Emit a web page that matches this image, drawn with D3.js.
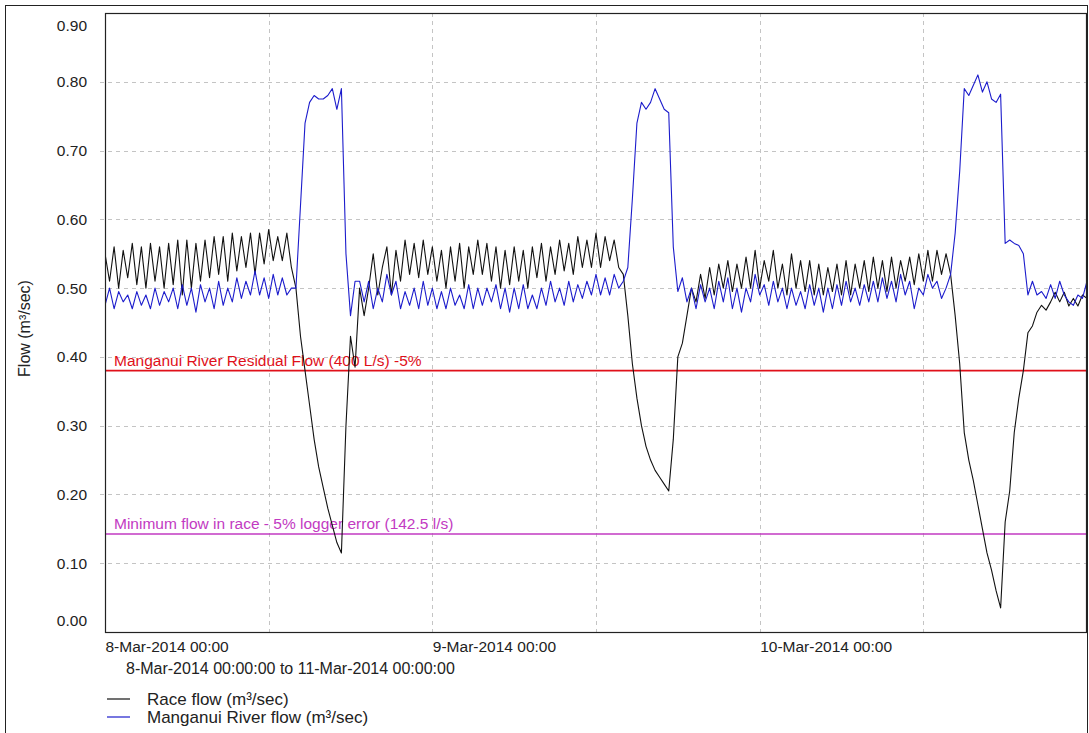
<!DOCTYPE html>
<html>
<head>
<meta charset="utf-8">
<script src="https://cdn.jsdelivr.net/npm/d3@7"></script>
<style>
  body { margin: 0; background: #fff; }
  svg text { font-family: "Liberation Sans", Arial, Helvetica, sans-serif; fill: #222; }
</style>
</head>
<body>
<svg id="chart" width="1089" height="733"></svg>
<script>
// Logger readings, one every 20 minutes from 8-Mar-2014 00:00 to 11-Mar-2014 00:00
const seriesStart = new Date(2014, 2, 8, 0, 0);
const seriesEnd = new Date(2014, 2, 11, 0, 0);
const stepMinutes = 20;

// Race flow (m³/sec)
const raceFlow = [
  0.55, 0.51, 0.56, 0.50, 0.555, 0.515, 0.565, 0.505, 0.56, 0.50,
  0.565, 0.51, 0.56, 0.50, 0.565, 0.505, 0.57, 0.49, 0.57, 0.50,
  0.565, 0.51, 0.57, 0.515, 0.575, 0.52, 0.575, 0.51, 0.58, 0.525,
  0.575, 0.53, 0.58, 0.52, 0.58, 0.535, 0.585, 0.54, 0.575, 0.54,
  0.58, 0.53, 0.50, 0.43, 0.38, 0.33, 0.28, 0.24, 0.21, 0.18,
  0.155, 0.13, 0.115, 0.30, 0.43, 0.385, 0.50, 0.46, 0.50, 0.55,
  0.49, 0.53, 0.56, 0.49, 0.555, 0.51, 0.57, 0.52, 0.565, 0.515,
  0.57, 0.52, 0.56, 0.51, 0.555, 0.50, 0.56, 0.51, 0.565, 0.50,
  0.56, 0.52, 0.57, 0.52, 0.565, 0.51, 0.56, 0.50, 0.555, 0.505,
  0.56, 0.51, 0.555, 0.50, 0.56, 0.515, 0.565, 0.51, 0.56, 0.52,
  0.57, 0.525, 0.565, 0.52, 0.575, 0.53, 0.57, 0.53, 0.58, 0.53,
  0.575, 0.54, 0.57, 0.53, 0.52, 0.46, 0.39, 0.34, 0.30, 0.27,
  0.25, 0.235, 0.225, 0.215, 0.205, 0.28, 0.40, 0.42, 0.46, 0.50,
  0.48, 0.52, 0.485, 0.53, 0.49, 0.535, 0.50, 0.54, 0.495, 0.535,
  0.50, 0.545, 0.50, 0.555, 0.50, 0.54, 0.51, 0.555, 0.50, 0.535,
  0.49, 0.55, 0.50, 0.54, 0.495, 0.54, 0.49, 0.535, 0.49, 0.53,
  0.495, 0.535, 0.49, 0.54, 0.49, 0.535, 0.50, 0.54, 0.495, 0.545,
  0.50, 0.54, 0.495, 0.545, 0.50, 0.54, 0.51, 0.545, 0.505, 0.55,
  0.51, 0.555, 0.51, 0.555, 0.52, 0.55, 0.52, 0.46, 0.39, 0.29,
  0.25, 0.22, 0.185, 0.15, 0.115, 0.09, 0.06, 0.035, 0.16, 0.205,
  0.29, 0.34, 0.38, 0.435, 0.445, 0.465, 0.475, 0.468, 0.48, 0.494,
  0.48, 0.494, 0.474, 0.485, 0.474, 0.49, 0.485
];

// Manganui River flow (m³/sec)
const riverFlow = [
  0.475, 0.50, 0.47, 0.495, 0.48, 0.49, 0.47, 0.495, 0.475, 0.49,
  0.47, 0.50, 0.475, 0.495, 0.48, 0.50, 0.47, 0.505, 0.475, 0.50,
  0.465, 0.505, 0.48, 0.50, 0.47, 0.51, 0.475, 0.50, 0.48, 0.515,
  0.485, 0.51, 0.49, 0.525, 0.49, 0.515, 0.485, 0.52, 0.49, 0.515,
  0.49, 0.50, 0.50, 0.62, 0.74, 0.77, 0.78, 0.775, 0.775, 0.78,
  0.79, 0.76, 0.79, 0.55, 0.46, 0.51, 0.51, 0.48, 0.51, 0.47,
  0.50, 0.48, 0.52, 0.49, 0.51, 0.47, 0.495, 0.475, 0.50, 0.47,
  0.51, 0.475, 0.50, 0.47, 0.495, 0.47, 0.50, 0.475, 0.49, 0.47,
  0.505, 0.47, 0.50, 0.475, 0.50, 0.48, 0.505, 0.47, 0.50, 0.465,
  0.50, 0.47, 0.505, 0.47, 0.49, 0.47, 0.50, 0.475, 0.51, 0.48,
  0.50, 0.475, 0.51, 0.48, 0.505, 0.485, 0.51, 0.49, 0.52, 0.49,
  0.515, 0.49, 0.52, 0.50, 0.51, 0.53, 0.63, 0.74, 0.77, 0.76,
  0.77, 0.79, 0.775, 0.76, 0.755, 0.56, 0.495, 0.515, 0.48, 0.50,
  0.47, 0.505, 0.48, 0.50, 0.47, 0.51, 0.48, 0.515, 0.47, 0.50,
  0.465, 0.50, 0.48, 0.52, 0.49, 0.505, 0.475, 0.51, 0.48, 0.50,
  0.47, 0.50, 0.475, 0.495, 0.47, 0.505, 0.475, 0.50, 0.465, 0.50,
  0.47, 0.505, 0.475, 0.51, 0.48, 0.50, 0.475, 0.505, 0.48, 0.51,
  0.48, 0.515, 0.485, 0.51, 0.48, 0.52, 0.49, 0.51, 0.47, 0.50,
  0.49, 0.52, 0.50, 0.51, 0.485, 0.50, 0.52, 0.58, 0.67, 0.79,
  0.78, 0.795, 0.81, 0.785, 0.80, 0.775, 0.77, 0.782, 0.565, 0.57,
  0.565, 0.562, 0.55, 0.49, 0.51, 0.49, 0.495, 0.485, 0.505, 0.485,
  0.51, 0.49, 0.48, 0.475, 0.49, 0.485, 0.51
];

// Axis ticks
const yTicks = [0.00, 0.10, 0.20, 0.30, 0.40, 0.50, 0.60, 0.70, 0.80, 0.90];
const xTickDates = [new Date(2014, 2, 8), new Date(2014, 2, 9), new Date(2014, 2, 10)];
const xTickLabels = ["8-Mar-2014 00:00", "9-Mar-2014 00:00", "10-Mar-2014 00:00"];

// Threshold lines
const thresholdValues = [0.38, 0.1425];
const thresholdLabels = [
  "Manganui River Residual Flow (400 L/s) -5%",
  "Minimum flow in race - 5% logger error (142.5 l/s)"
];
const thresholdColors = ["#e0101a", "#c23ac2"];

const seriesNames = ["Race flow (m\u00B3/sec)", "Manganui River flow (m\u00B3/sec)"];
const seriesColors = ["#111111", "#1c1ccc"];

const rangeLabel = "8-Mar-2014 00:00:00 to 11-Mar-2014 00:00:00";
const yTitle = "Flow (m\u00B3/sec)";

// ---- layout ----
const plot = { left: 105, top: 13, right: 1087, bottom: 632 };

const svg = d3.select("#chart");

const x = d3.scaleTime().domain([seriesStart, seriesEnd]).range([plot.left, plot.right]);
const y = d3.scaleLinear().domain([0, 0.9]).range([plot.bottom, plot.top]);

const times = raceFlow.map((_, i) => d3.timeMinute.offset(seriesStart, i * stepMinutes));

// outer frame
svg.append("rect")
  .attr("x", 5.5).attr("y", 5.5)
  .attr("width", 1082).attr("height", 740)
  .attr("fill", "none").attr("stroke", "#222").attr("stroke-width", 1);

// grid
const grid = svg.append("g").attr("stroke", "#c4c4c4").attr("stroke-width", 1)
  .attr("stroke-dasharray", "4,4");
grid.selectAll("line.h")
  .data(yTicks.filter(v => v > 0 && v < 0.9))
  .join("line")
  .attr("class", "h")
  .attr("x1", plot.left - 5).attr("x2", plot.right)
  .attr("y1", d => Math.round(y(d)) + 0.5).attr("y2", d => Math.round(y(d)) + 0.5);
grid.selectAll("line.v")
  .data(d3.timeHour.every(12).range(d3.timeHour.offset(seriesStart, 12), seriesEnd))
  .join("line")
  .attr("class", "v")
  .attr("x1", d => Math.round(x(d)) + 0.5).attr("x2", d => Math.round(x(d)) + 0.5)
  .attr("y1", plot.top).attr("y2", plot.bottom);

// y axis
const yAxis = svg.append("g")
  .attr("transform", `translate(${plot.left},0)`)
  .call(d3.axisLeft(y).tickValues(yTicks).tickFormat(d3.format(".2f")).tickSize(0).tickPadding(18));
yAxis.select(".domain").remove();
yAxis.selectAll("text")
  .attr("font-size", 15.5)
  .attr("fill", "#222")
  .attr("dy", d => d === 0.9 ? "1.1em" : d === 0 ? "-0.45em" : "0.32em");

// x axis
const xAxis = svg.append("g")
  .attr("transform", `translate(0,${plot.bottom})`)
  .call(d3.axisBottom(x).tickValues(xTickDates).tickFormat((d, i) => xTickLabels[i]).tickSize(0));
xAxis.select(".domain").remove();
xAxis.selectAll("text")
  .attr("font-size", 15.5)
  .attr("fill", "#222")
  .attr("text-anchor", "start")
  .attr("x", 0)
  .attr("y", 15)
  .attr("dy", "0.35em");

// clip for the data lines
svg.append("clipPath").attr("id", "plotClip")
  .append("rect")
  .attr("x", plot.left).attr("y", plot.top)
  .attr("width", plot.right - plot.left).attr("height", plot.bottom - plot.top);

// threshold lines and their captions
const thr = svg.append("g");
thr.selectAll("line")
  .data(thresholdValues)
  .join("line")
  .attr("x1", plot.left).attr("x2", plot.right)
  .attr("y1", d => y(d)).attr("y2", d => y(d))
  .attr("stroke", (d, i) => thresholdColors[i])
  .attr("stroke-width", 1.6);
thr.selectAll("text")
  .data(thresholdValues)
  .join("text")
  .attr("x", plot.left + 9)
  .attr("y", d => y(d) - 5)
  .attr("font-size", 15.5)
  .style("fill", (d, i) => thresholdColors[i])
  .text((d, i) => thresholdLabels[i]);

// flow series
const line = d3.line()
  .x((d, i) => x(times[i]))
  .y(d => y(d));

const lines = svg.append("g").attr("clip-path", "url(#plotClip)");
[raceFlow, riverFlow].forEach((series, k) => {
  lines.append("path")
    .datum(series)
    .attr("d", line)
    .attr("fill", "none")
    .attr("stroke", seriesColors[k])
    .attr("stroke-width", 1.1)
    .attr("stroke-linejoin", "round");
});

// plot frame
svg.append("rect")
  .attr("x", plot.left + 0.5).attr("y", plot.top + 0.5)
  .attr("width", plot.right - plot.left - 1).attr("height", plot.bottom - plot.top)
  .attr("fill", "none").attr("stroke", "#222").attr("stroke-width", 1.2);

// y axis title
svg.append("text")
  .attr("transform", `translate(24,${(plot.top + plot.bottom) / 2 + 6}) rotate(-90)`)
  .attr("text-anchor", "middle")
  .attr("dy", "0.35em")
  .attr("font-size", 16)
  .text(yTitle);

// time range caption
svg.append("text")
  .attr("x", 126).attr("y", 668)
  .attr("dy", "0.35em")
  .attr("font-size", 16)
  .text(rangeLabel);

// legend
const legend = svg.append("g");
seriesNames.forEach((name, i) => {
  const ly = 699 + i * 18;
  legend.append("line")
    .attr("x1", 107).attr("x2", 130)
    .attr("y1", ly).attr("y2", ly)
    .attr("stroke", seriesColors[i]).attr("stroke-width", 1.2);
  legend.append("text")
    .attr("x", 147).attr("y", ly)
    .attr("dy", "0.35em")
    .attr("font-size", 17)
    .text(name);
});
</script>
</body>
</html>
